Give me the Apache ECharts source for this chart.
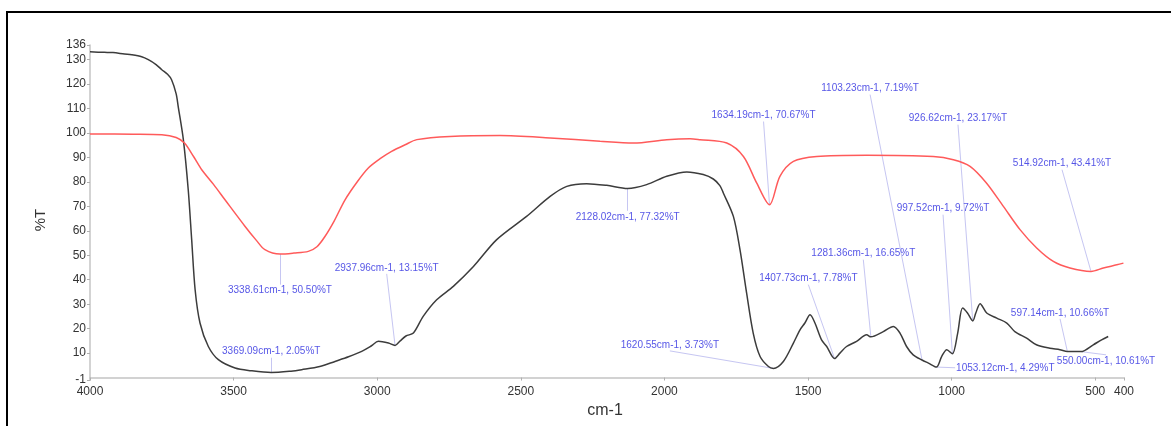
<!DOCTYPE html>
<html>
<head>
<meta charset="utf-8">
<script src="https://cdn.jsdelivr.net/npm/echarts@6/dist/echarts.min.js"></script>
<style>html,body{margin:0;padding:0;background:#fff;}#chart{width:1171px;height:426px;}</style>
</head>
<body>
<div id="chart"></div>
<script>
// Sample spectrum (black)
const sampleWn = [4000,3950,3920,3880,3855,3820,3797,3770,3750,3730,3716,3700,3693,3675,3658,3646,3634,3617,3588,3553,3495,3440,3369.09,3300,3263,3200,3147,3100,3054,3020,2996,2961,2937.96,2920,2900,2874,2840,2793,2735,2665,2584,2480,2398,2340,2271,2201,2128.02,2062,1992,1922,1865,1830,1807,1795,1760,1737,1714,1691,1667,1638,1620.55,1586,1551,1528,1511,1493,1476,1453,1435,1407.73,1389,1366,1331,1296,1281.36,1238,1203,1180,1157,1134,1103.23,1081,1053.12,1035,1017,997.52,979,962,945,926.62,916,901,878,843,808,780,739,705,658,623,597.14,550,507,478,455];
const sampleT  = [133.2,133.0,132.9,132.3,132.0,131.2,130.0,128.0,125.9,124.0,121.8,116.0,110.9,97.3,76.8,56.4,35.9,22.3,12.7,7.3,3.9,2.8,2.05,2.6,3.2,4.5,6.6,8.5,10.7,13.0,14.8,14.1,13.15,15.0,17.0,18.2,25.0,31.8,37.3,45.4,56.4,65.9,74.1,78.2,79.3,78.6,77.32,78.9,82.3,84.1,83.0,81.2,78.5,75.5,65.9,52.3,34.6,18.2,8.6,4.5,3.73,6.6,14.1,19.5,22.3,25.7,22.3,15.4,12.7,7.78,10.0,12.7,14.8,17.5,16.65,18.8,20.9,18.2,12.7,9.3,7.19,5.9,4.29,8.6,11.4,9.72,18.2,28.4,26.4,23.17,26.4,30.2,26.4,24.3,22.3,18.8,16.1,13.4,12.0,11.4,10.66,10.61,13.4,15.4,16.8];

// Reference spectrum (red)
const refWn = [4000,3850,3750,3700,3671,3640,3611,3570,3530,3460,3420,3391,3338.61,3290,3240,3210,3182,3150,3112,3070,3031,2990,2950,2903,2862,2747,2573,2398,2224,2108,1992,1911,1876,1783,1725,1679,1634.19,1598,1551,1470,1296,1064,994,936,879,820,762,704,646,588,514.92,472,425,402];
const refT  = [99.6,99.5,99.3,98.2,95.9,90.5,85.0,79.0,72.7,61.8,56.0,52.3,50.50,50.9,51.6,53.5,57.7,64.0,72.7,80.0,85.7,89.5,92.5,95.2,97.3,98.6,99.0,98.0,96.6,95.9,97.3,97.7,97.3,95.9,90.4,79.6,70.67,82.3,88.4,90.4,90.9,90.4,89.1,86.4,79.6,70.0,60.5,53.0,47.5,44.8,43.41,44.8,46.1,46.8];

// Peak annotations
const peakText = ['3338.61cm-1, 50.50%T','3369.09cm-1, 2.05%T','2937.96cm-1, 13.15%T','2128.02cm-1, 77.32%T','1620.55cm-1, 3.73%T','1634.19cm-1, 70.67%T','1407.73cm-1, 7.78%T','1281.36cm-1, 16.65%T','1103.23cm-1, 7.19%T','926.62cm-1, 23.17%T','997.52cm-1, 9.72%T','514.92cm-1, 43.41%T','597.14cm-1, 10.66%T','1053.12cm-1, 4.29%T','550.00cm-1, 10.61%T'];
const peakWn = [3338.61,3369.09,2937.96,2128.02,1620.55,1634.19,1407.73,1281.36,1103.23,926.62,997.52,514.92,597.14,1053.12,550.00];
const peakT  = [50.50,2.05,13.15,77.32,3.73,70.67,7.78,16.65,7.19,23.17,9.72,43.41,10.66,4.29,10.61];
// where each leader line ends and the label sits (data coordinates)
const labelWn = [3338.61,3369.09,2967,2128.02,1981,1655,1499,1307.6,1284,978,1030,615.8,622.7,988,462.6];
const labelT  = [38.0,8.1,42.4,68.2,10.9,104.7,38.0,48.2,115.7,103.4,66.6,85.0,24.0,4.0,9.3];
const labelSide = ['bottom','top','top','bottom','top','top','top','top','top','top','top','top','top','right','bottom'];

// Axis ticks
const xTicks = [4000,3500,3000,2500,2000,1500,1000,500,400];
const yTicks = [-1,10,20,30,40,50,60,70,80,90,100,110,120,130,136];

const FONT = '"Liberation Sans", Arial, sans-serif';
const chart = echarts.init(document.getElementById('chart'), null, {renderer: 'canvas'});

const zip = (a, b) => a.map((v, i) => [v, b[i]]);
const plain = v => String(v);

const option = {
  animation: false,
  backgroundColor: '#ffffff',
  grid: {left: 90, right: 47, top: 45, bottom: 46, containLabel: false},
  graphic: [{
    type: 'rect', silent: true, z: 100,
    shape: {x: 7, y: 12, width: 1300, height: 600},
    style: {fill: 'none', stroke: '#000000', lineWidth: 2}
  }],
  xAxis: {
    type: 'value', inverse: true, min: 400, max: 4000,
    name: 'cm-1', nameLocation: 'middle', nameGap: 20,
    nameTextStyle: {fontSize: 16, color: '#333', fontFamily: FONT, padding: [0, 4, 0, 0]},
    axisLine: {show: true, lineStyle: {color: '#c4c4c4', width: 1.5}},
    axisTick: {show: true, length: 3, customValues: xTicks, lineStyle: {color: '#b0b0b0'}},
    axisLabel: {customValues: xTicks, formatter: plain, fontSize: 12, color: '#333', fontFamily: FONT, margin: 6},
    splitLine: {show: false}
  },
  yAxis: {
    type: 'value', min: -1, max: 136,
    name: '%T', nameLocation: 'middle', nameGap: 42,
    nameTextStyle: {fontSize: 15, color: '#333', fontFamily: FONT, padding: [0, 15, 0, 0]},
    axisLine: {show: true, lineStyle: {color: '#c4c4c4', width: 1.5}},
    axisTick: {show: true, length: 3, customValues: yTicks, lineStyle: {color: '#b0b0b0'}},
    axisLabel: {customValues: yTicks, formatter: plain, fontSize: 12, color: '#333', fontFamily: FONT, margin: 4},
    splitLine: {show: false}
  },
  series: [
    {
      name: 'Sample', type: 'line', data: zip(sampleWn, sampleT),
      showSymbol: false, smooth: 0.3,
      lineStyle: {color: '#3c3c3c', width: 1.5}, z: 3
    },
    {
      name: 'Reference', type: 'line', data: zip(refWn, refT),
      showSymbol: false, smooth: 0.3,
      lineStyle: {color: '#ff5a5a', width: 1.5}, z: 3
    },
    {
      name: 'Leaders', type: 'lines', coordinateSystem: 'cartesian2d', silent: true,
      data: peakWn.map((w, i) => ({coords: [[w, peakT[i]], [labelWn[i], labelT[i]]]})),
      lineStyle: {color: '#c6c6f2', width: 1, opacity: 1}, z: 2
    },
    {
      name: 'Peaks', type: 'scatter', symbolSize: 0, silent: true, z: 5,
      data: labelWn.map((w, i) => ({
        value: [w, labelT[i]], name: peakText[i],
        label: {position: labelSide[i]}
      })),
      label: {
        show: true, formatter: '{b}', distance: 1,
        fontSize: 10, color: '#2b2be0', fontFamily: FONT
      }
    }
  ]
};
chart.setOption(option);
</script>
</body>
</html>
